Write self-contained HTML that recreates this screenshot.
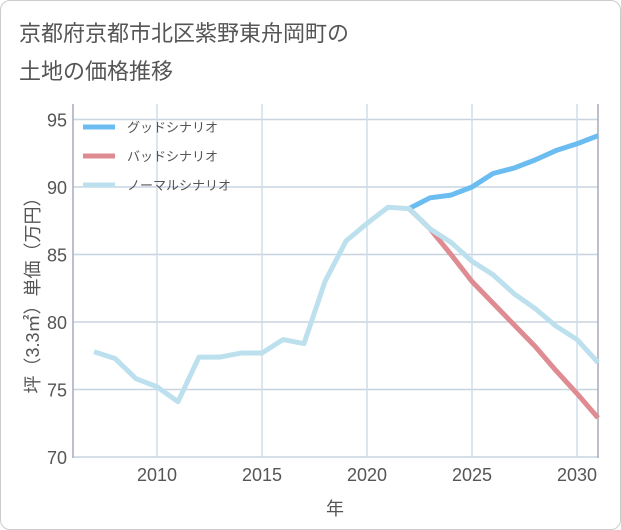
<!DOCTYPE html>
<html><head><meta charset="utf-8"><style>
body{margin:0;background:#fff;font-family:"Liberation Sans","Noto Sans CJK JP",sans-serif;}
#wrap{position:relative;width:619px;height:528px;border:1px solid #ccc;border-radius:10px;overflow:hidden;background:#fff}
#title{position:absolute;left:18px;top:14px;font-size:22px;line-height:38px;color:#555;}
</style></head><body>
<div id="wrap">
<div id="title">京都府京都市北区紫野東舟岡町の<br>土地の価格推移</div>
<svg id="chart" width="621" height="530" style="position:absolute;left:0;top:0"></svg>
</div>
<script>
const years=[2007,2008,2009,2010,2011,2012,2013,2014,2015,2016,2017,2018,2019,2020,2021,2022,2023,2024,2025,2026,2027,2028,2029,2030,2031];
const normal=[77.8,77.3,75.8,75.2,74.1,77.4,77.4,77.7,77.7,78.7,78.4,83.0,86.0,87.3,88.5,88.4,86.9,85.9,84.5,83.5,82.1,81.0,79.7,78.7,77.0];
const goodYears=[2022,2023,2024,2025,2026,2027,2028,2029,2030,2031];
const good=[88.4,89.2,89.4,90.0,91.0,91.4,92.0,92.7,93.2,93.8];
const bad=[88.4,86.9,85.0,83.0,81.4,79.8,78.2,76.4,74.7,72.9];
const yTicks=[70,75,80,85,90,95];
const xTicks=[2010,2015,2020,2025,2030];
const L=72,R=597,T=103,B=457;
const x=v=>93+(v-2007)*21;
const y=v=>456-(v-70)*13.5;
const svg=document.getElementById('chart');
const NS='http://www.w3.org/2000/svg';
function mk(t,a){const e=document.createElementNS(NS,t);for(const k in a)e.setAttribute(k,a[k]);svg.appendChild(e);return e;}
yTicks.forEach(v=>{const l=mk('line',{x1:L,x2:R,y1:y(v),y2:y(v),stroke:'#c8d4e0','stroke-width':1.5});


const t=mk('text',{x:L-6,y:y(v)+7,'text-anchor':'end','font-size':18,fill:'#555'});t.textContent=v;

});
xTicks.forEach(v=>{const l=mk('line',{x1:x(v),x2:x(v),y1:T,y2:B,stroke:'#d0dde8','stroke-width':1.5});


const t=mk('text',{x:x(v),y:B+23,'text-anchor':'middle','font-size':18,fill:'#555'});t.textContent=v;

});
const ax=mk('line',{x1:L,x2:L,y1:T,y2:B,stroke:'#aab','stroke-width':1.5});


const ax2=mk('line',{x1:R,x2:R,y1:T,y2:B,stroke:'#aab','stroke-width':1.5});


function line(xs,vs,c,name){const p=mk('polyline',{points:xs.map((yr,i)=>x(yr)+','+y(vs[i])).join(' '),fill:'none',stroke:c,'stroke-width':5,'stroke-linejoin':'round'});

}
line(goodYears,good,'#6bbcf0','good-scenario-line');
line(goodYears,bad,'#de8c92','bad-scenario-line');
line(years,normal,'#bde0ee','normal-scenario-line');
const leg=[['グッドシナリオ','#6bbcf0'],['バッドシナリオ','#de8c92'],['ノーマルシナリオ','#bde0ee']];
leg.forEach((d,i)=>{const yy=126+i*29;
const l=mk('line',{x1:82,x2:114,y1:yy,y2:yy,stroke:d[1],'stroke-width':5});


const t=mk('text',{x:126,y:yy+5,'font-size':13,fill:'#555'});t.textContent=d[0];

});
const xt=mk('text',{x:334,y:514,'text-anchor':'middle','font-size':18,fill:'#555'});xt.textContent='年';


const yt=mk('text',{x:0,y:0,'text-anchor':'middle','font-size':18,fill:'#555',transform:'translate(38,290) rotate(-90)'});yt.textContent='坪（3.3㎡）単価（万円）';


</script>
</body></html>
